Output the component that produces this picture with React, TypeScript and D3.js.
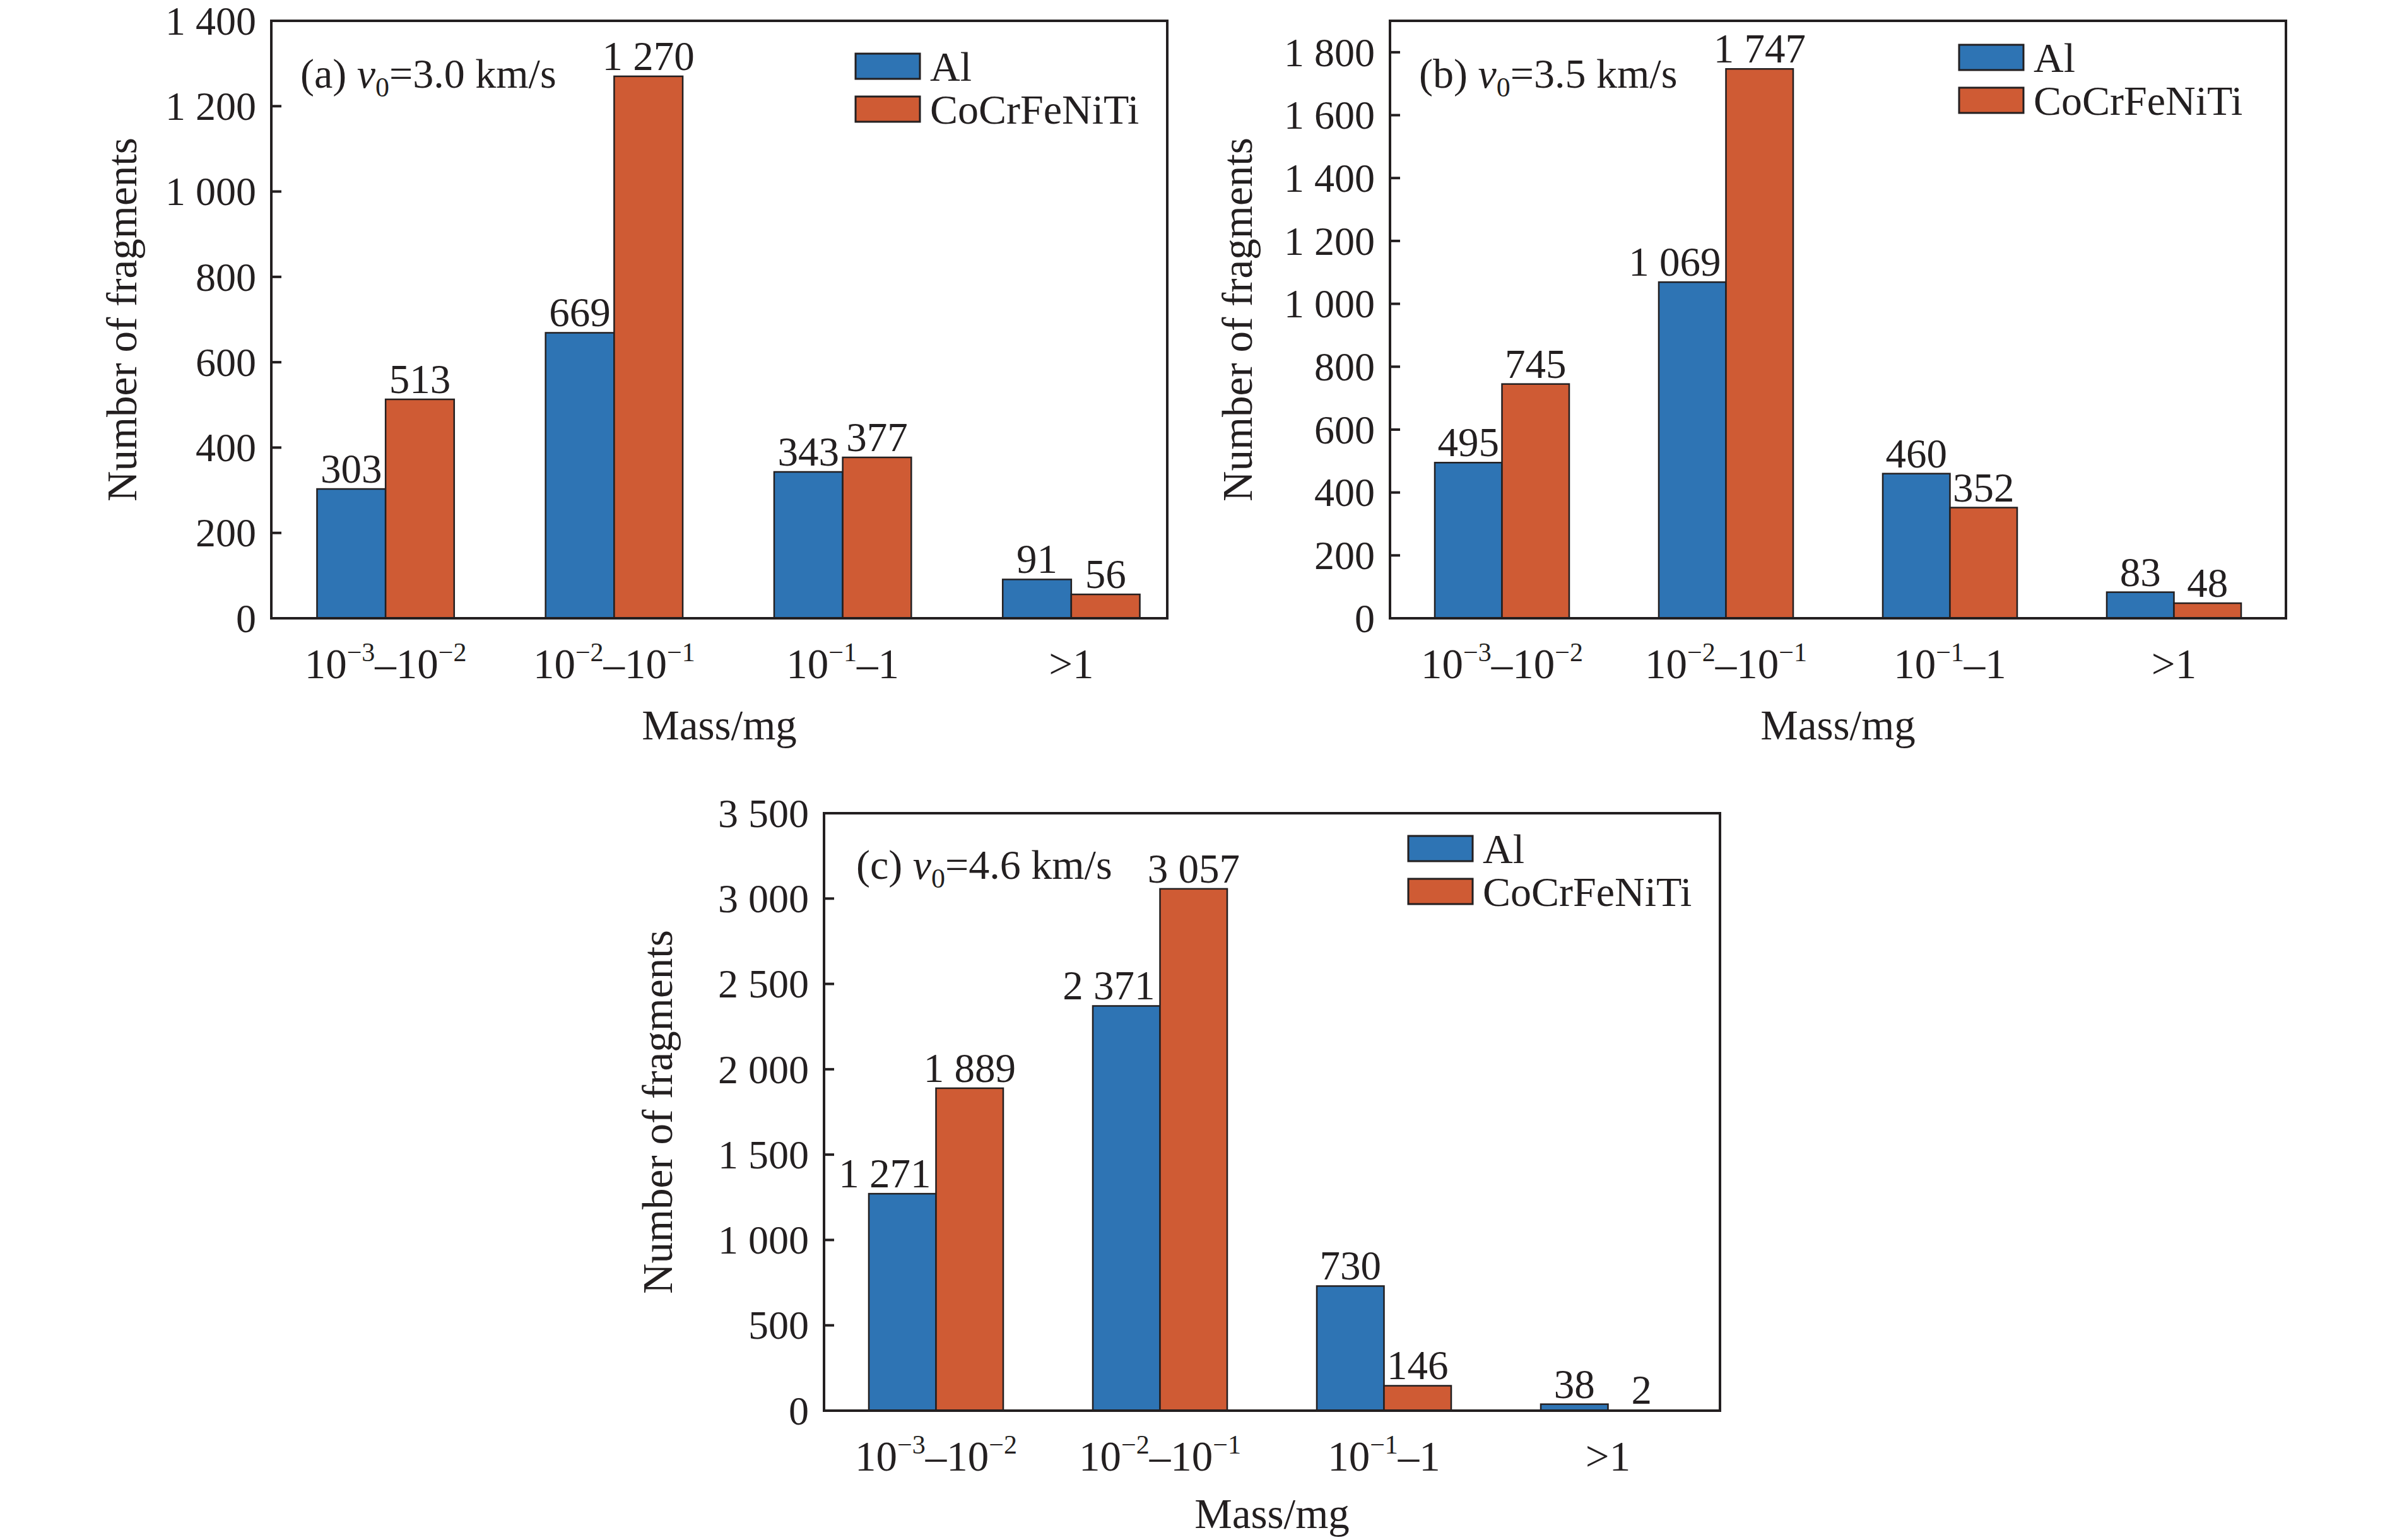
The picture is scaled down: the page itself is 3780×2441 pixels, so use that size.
import React from 'react';
import * as d3 from 'd3';

// categories (^{..} marks a superscript)
const categories = ['10^{−3}–10^{−2}', '10^{−2}–10^{−1}', '10^{−1}–1', '>1'];
const seriesNames = ['Al', 'CoCrFeNiTi'];
const seriesColors = ['#2E74B4', '#CF5B34'];

const alA = [303, 669, 343, 91];
const coA = [513, 1270, 377, 56];
const alB = [495, 1069, 460, 83];
const coB = [745, 1747, 352, 48];
const alC = [1271, 2371, 730, 38];
const coC = [1889, 3057, 146, 2];

const ticksA = [0, 200, 400, 600, 800, 1000, 1200, 1400];
const ticksB = [0, 200, 400, 600, 800, 1000, 1200, 1400, 1600, 1800];
const ticksC = [0, 500, 1000, 1500, 2000, 2500, 3000, 3500];

const W = 3780;
const H = 2441;
const ink = '#231F20';
const font = '"Liberation Serif", "Times New Roman", serif';

const fmt = (v: number) => d3.format(',')(v).replace(/,/g, ' ');

const parseLabel = (s: string) => {
  const parts: { t: string; sup: boolean }[] = [];
  const re = /\^\{([^}]*)\}|([^^]+)/g;
  let m;
  while ((m = re.exec(s)) !== null) {
    if (m[1] !== undefined) parts.push({ t: m[1], sup: true });
    else parts.push({ t: m[2], sup: false });
  }
  return parts;
};

type PanelProps = {
  left: number; top: number; width: number; height: number;
  al: number[]; co: number[]; ticks: number[]; yMax: number;
  xDomain: [number, number]; tag: string; speed: string;
  legendDx: number; legendDy: number; tagDx: number; tagDy: number;
  titleDx: number; massDy: number;
};

const Panel = (p: PanelProps) => {
  const x = d3.scaleLinear().domain(p.xDomain).range([p.left, p.left + p.width]);
  const y = d3.scaleLinear().domain([0, p.yMax]).range([p.top + p.height, p.top]);
  const bw = 0.3;
  const series = [p.al, p.co];
  const bottom = p.top + p.height;

  return (
    <g fontFamily={font} fill={ink}>
      {/* bars */}
      {series.map((vals, si) =>
        vals.map((v, i) => {
          const x0 = x(i + 1 + (si === 0 ? -bw : 0));
          const x1 = x(i + 1 + (si === 0 ? 0 : bw));
          // wide Al labels are pushed left so they clear the neighbouring bar
          const shift = si === 0 && v >= 1000;
          return (
            <g key={`b${si}-${i}`}>
              <rect x={x0} y={y(v)} width={x1 - x0} height={bottom - y(v)}
                fill={seriesColors[si]} stroke={ink} strokeWidth={2.5} />
              <text x={shift ? x1 - 8 : (x0 + x1) / 2} y={y(v) - 10} fontSize={65}
                textAnchor={shift ? 'end' : 'middle'}>{fmt(v)}</text>
            </g>
          );
        })
      )}
      {/* frame */}
      <rect x={p.left} y={p.top} width={p.width} height={p.height} fill="none" stroke={ink} strokeWidth={4} />
      {/* y ticks */}
      {p.ticks.map(t => (
        <g key={`t${t}`}>
          <line x1={p.left} x2={p.left + 16} y1={y(t)} y2={y(t)} stroke={ink} strokeWidth={4} />
          <text x={p.left - 24} y={y(t)} dy="0.34em" fontSize={64} textAnchor="end">{fmt(t)}</text>
        </g>
      ))}
      {/* x tick labels */}
      {categories.map((c, i) => {
        const parts = parseLabel(c);
        return (
          <text key={`c${i}`} x={x(i + 1)} y={bottom + 95} fontSize={67} textAnchor="middle">
            {parts.map((part, j) =>
              part.sup
                ? <tspan key={j} fontSize={42} dy={-27}>{part.t}</tspan>
                : <tspan key={j} dy={j > 0 && parts[j - 1].sup ? 27 : 0}>{part.t}</tspan>
            )}
          </text>
        );
      })}
      {/* axis titles */}
      <text x={p.left + p.width / 2} y={bottom + p.massDy} fontSize={67} textAnchor="middle">Mass/mg</text>
      <text transform={`translate(${p.left + p.titleDx}, ${p.top + p.height / 2}) rotate(-90)`}
        dy="0.35em" fontSize={67} textAnchor="middle">Number of fragments</text>
      {/* panel tag */}
      <text x={p.left + p.tagDx} y={p.top + p.tagDy} fontSize={66}>
        <tspan>{p.tag} </tspan>
        <tspan fontStyle="italic">v</tspan>
        <tspan fontSize={44} dy={14}>0</tspan>
        <tspan dy={-14}>{`=${p.speed} km/s`}</tspan>
      </text>
      {/* legend */}
      {seriesNames.map((n, si) => {
        const lx = p.left + p.width - p.legendDx;
        const ly = p.top + p.legendDy + si * 68;
        return (
          <g key={`l${si}`}>
            <rect x={lx} y={ly} width={102} height={40} fill={seriesColors[si]} stroke={ink} strokeWidth={3} />
            <text x={lx + 118} y={ly + 20} dy="0.35em" fontSize={66}>{n}</text>
          </g>
        );
      })}
    </g>
  );
};

export default function App() {
  return (
    <svg width={W} height={H} viewBox={`0 0 ${W} ${H}`}
      style={{ position: 'absolute', left: 0, top: 0, background: '#fff' }}>
      <rect width={W} height={H} fill="#fff" />
      <Panel left={430} top={33} width={1420} height={947} al={alA} co={coA} ticks={ticksA} yMax={1400}
        xDomain={[0.5, 4.42]} tag="(a)" speed="3.0" legendDx={494} legendDy={52}
        tagDx={46} tagDy={106} titleDx={-237} massDy={192} />
      <Panel left={2203} top={33} width={1420} height={947} al={alB} co={coB} ticks={ticksB} yMax={1900}
        xDomain={[0.5, 4.5]} tag="(b)" speed="3.5" legendDx={518} legendDy={38}
        tagDx={46} tagDy={106} titleDx={-242} massDy={192} />
      <Panel left={1306} top={1289} width={1420} height={947} al={alC} co={coC} ticks={ticksC} yMax={3500}
        xDomain={[0.5, 4.5]} tag="(c)" speed="4.6" legendDx={494} legendDy={36}
        tagDx={51} tagDy={104} titleDx={-264} massDy={186} />
    </svg>
  );
}
